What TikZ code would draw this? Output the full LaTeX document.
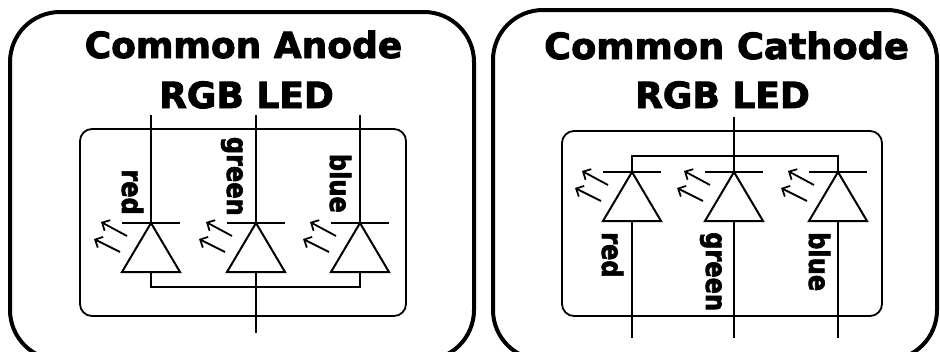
\documentclass[tikz,border=0pt]{standalone}
\usepackage{fontspec}
\setmainfont{DejaVu Sans}
\newfontfamily\heavyfont{DejaVu Sans}[BoldFeatures={FakeBold=2.5}]
\usepackage{graphicx}
\usetikzlibrary{arrows.meta}

\tikzset{
  panel/.style={line width=4pt, rounded corners=50pt},
  chip/.style={line width=1.8pt, rounded corners=12pt},
  wire/.style={line width=2pt},
  light/.style={line width=1.8pt, -{Straight Barb[length=6pt,width=12pt]}},
  title/.style={font=\fontsize{36}{40}\heavyfont\bfseries, anchor=base, inner sep=0pt},
  pinlabel/.style={font=\fontsize{28}{28}\heavyfont\bfseries, rotate=-90, inner sep=0pt},
  pics/rgbled/.style={code={
    \coordinate (-bar) at (0,0);
    \coordinate (-base) at (0,49);
    \draw[wire] (-29,0) -- (29,0);
    \draw[wire, line join=miter] (-bar) -- (-29,49) -- (29,49) -- cycle;
    \draw[light] (-24,13) -- (-50,-1);
    \draw[light] (-31,29) -- (-57,16);
  }}
}

\begin{document}
\begin{tikzpicture}[x=1pt, y=-1pt]
  \useasboundingbox (0,0) rectangle (940,351);
  \clip (0,0) rectangle (940,351);

  % Common anode panel
  \draw[panel] (10,12) rectangle (474,360);
  \draw[chip] (80,129) rectangle (406,316);
  \node[title] (anode1) at (243.5,58) {Common Anode};
  \node[title] (anode2) at (246.5,108) {RGB LED};

  \pic (ra) at (151,223) {rgbled};
  \pic (ga) at (256,223) {rgbled};
  \pic (ba) at (360,223) {rgbled};

  \coordinate (ra-pin) at (151,115);
  \coordinate (ga-pin) at (256,115);
  \coordinate (ba-pin) at (360,115);
  \coordinate (a-com) at (256,287);
  \coordinate (a-pin) at (256,333);

  \draw[wire] (ra-pin) -- (ra-bar);
  \draw[wire] (ga-pin) -- (ga-bar);
  \draw[wire] (ba-pin) -- (ba-bar);
  \draw[wire] (ra-base) |- (a-com) -| (ba-base);
  \draw[wire] (ga-base) -- (a-pin);

  \node[pinlabel, anchor=base east] (ra-lbl) at (122,215) {\scalebox{0.86}[1]{red}};
  \node[pinlabel, anchor=base east] (ga-lbl) at (227,216) {\scalebox{0.86}[1]{green}};
  \node[pinlabel, anchor=base east] (ba-lbl) at (330,213) {\scalebox{0.86}[1]{blue}};

  % Common cathode panel
  \draw[panel] (493,10) rectangle (937,360);
  \draw[chip] (562,131) rectangle (882,316);
  \node[title] (cathode1) at (726.5,59) {\scalebox{1.02}[1]{Common Cathode}};
  \node[title] (cathode2) at (722.5,108) {RGB LED};

  \pic (rc) at (632,172) {rgbled};
  \pic (gc) at (734,172) {rgbled};
  \pic (bc) at (838,172) {rgbled};

  \coordinate (c-pin) at (734,117);
  \coordinate (c-com) at (734,156);
  \coordinate (rc-pin) at (632,338);
  \coordinate (gc-pin) at (734,338);
  \coordinate (bc-pin) at (838,338);

  \draw[wire] (c-pin) -- (c-com);
  \draw[wire] (rc-bar) |- (c-com) -| (bc-bar);
  \draw[wire] (c-com) -- (gc-bar);
  \draw[wire] (rc-base) -- (rc-pin);
  \draw[wire] (gc-base) -- (gc-pin);
  \draw[wire] (bc-base) -- (bc-pin);

  \node[pinlabel, anchor=base west] (rc-lbl) at (602,232) {\scalebox{0.86}[1]{red}};
  \node[pinlabel, anchor=base west] (gc-lbl) at (706,232) {\scalebox{0.86}[1]{green}};
  \node[pinlabel, anchor=base west] (bc-lbl) at (809,232) {\scalebox{0.86}[1]{blue}};
\end{tikzpicture}
\end{document}
